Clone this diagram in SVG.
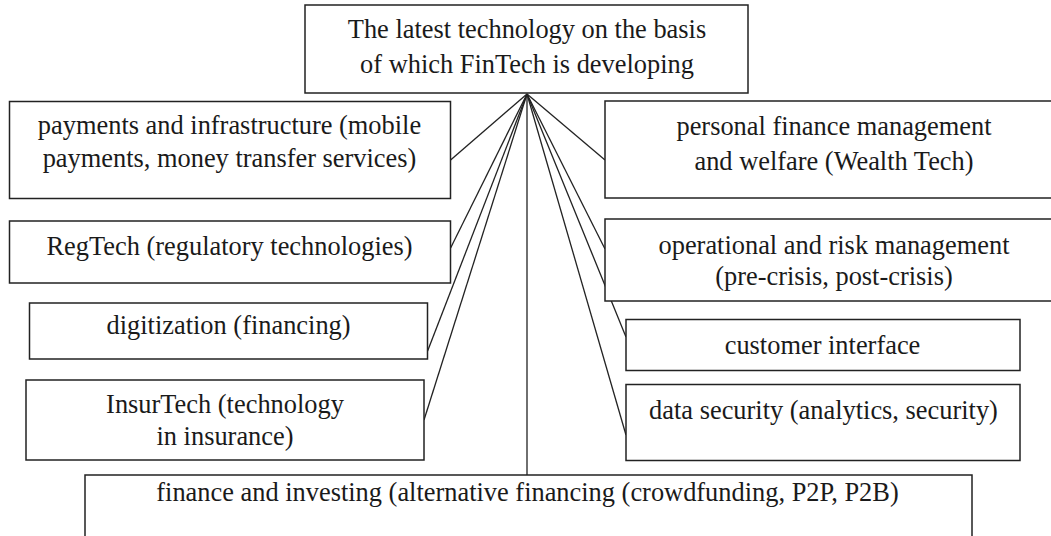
<svg xmlns="http://www.w3.org/2000/svg" width="1051" height="536" viewBox="0 0 1051 536">
<style>
.box{fill:#fff;stroke:#222;stroke-width:1.5}
.t{font-family:"Liberation Serif","Times New Roman",serif;font-size:26.4px;fill:#1a1a1a;text-anchor:middle}
.c{stroke:#222;stroke-width:1.3;fill:none}
</style>
<rect width="1051" height="536" fill="#fff"/>
<g id="connectors">
<line class="c" x1="527" y1="94" x2="450.6" y2="160"/>
<line class="c" x1="527" y1="94" x2="450.6" y2="248"/>
<line class="c" x1="527" y1="94" x2="427.6" y2="351"/>
<line class="c" x1="527" y1="94" x2="424" y2="420"/>
<line class="c" x1="527" y1="94" x2="527" y2="475"/>
<line class="c" x1="527" y1="94" x2="605" y2="160"/>
<line class="c" x1="527" y1="94" x2="605" y2="249"/>
<line class="c" x1="527" y1="94" x2="626" y2="337"/>
<line class="c" x1="527" y1="94" x2="626" y2="435"/>
</g>
<g id="top">
<rect class="box" x="305" y="5" width="443" height="88"/>
<text class="t" x="527" y="38">The latest technology on the basis</text>
<text class="t" x="527" y="73">of which FinTech is developing</text>
</g>
<g id="payments">
<rect class="box" x="9.5" y="101.5" width="441" height="97"/>
<text class="t" x="229.5" y="134">payments and infrastructure (mobile</text>
<text class="t" x="229.5" y="167">payments, money transfer services)</text>
</g>
<g id="regtech">
<rect class="box" x="9.5" y="221" width="441" height="62"/>
<text class="t" x="229.5" y="255">RegTech (regulatory technologies)</text>
</g>
<g id="digitization">
<rect class="box" x="29.5" y="303" width="398" height="56"/>
<text class="t" x="228.6" y="334">digitization (financing)</text>
</g>
<g id="insurtech">
<rect class="box" x="26" y="380" width="398" height="80"/>
<text class="t" x="225" y="413">InsurTech (technology</text>
<text class="t" x="225" y="445">in insurance)</text>
</g>
<g id="finance">
<rect class="box" x="85" y="475" width="887" height="80"/>
<text class="t" x="527.5" y="501">finance and investing (alternative financing (crowdfunding, P2P, P2B)</text>
</g>
<g id="personal">
<rect class="box" x="605" y="101" width="458" height="97"/>
<text class="t" x="834" y="134.5">personal finance management</text>
<text class="t" x="834" y="170">and welfare (Wealth Tech)</text>
</g>
<g id="operational">
<rect class="box" x="605" y="219" width="458" height="82"/>
<text class="t" x="834" y="254">operational and risk management</text>
<text class="t" x="834" y="285">(pre-crisis, post-crisis)</text>
</g>
<g id="customer">
<rect class="box" x="626" y="319.5" width="394" height="51"/>
<text class="t" x="822.5" y="354">customer interface</text>
</g>
<g id="datasecurity">
<rect class="box" x="626" y="384.5" width="394" height="76"/>
<text class="t" x="823.5" y="418.5">data security (analytics, security)</text>
</g>
</svg>
